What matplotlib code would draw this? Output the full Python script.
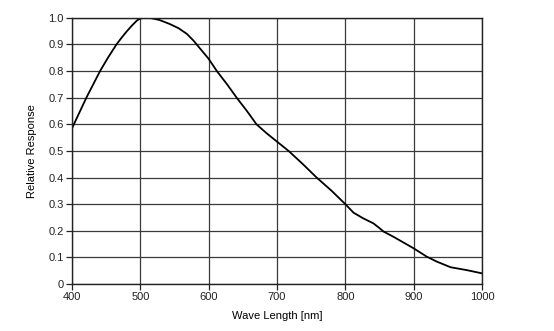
import matplotlib.pyplot as plt

plt.rcParams['font.family'] = ['Liberation Sans', 'DejaVu Sans']

# data
wavelength = [400, 410, 421, 431, 441, 453, 465, 473, 480, 488, 495, 500, 507,
              514, 528, 543, 556, 568, 578, 587, 600, 612, 627, 641, 656, 670,
              685, 700, 717, 738, 758, 780, 800, 812, 826, 841, 849, 856, 870,
              883, 900, 919, 934, 954, 978, 1000]
response = [0.585, 0.64, 0.70, 0.75, 0.80, 0.852, 0.90, 0.927, 0.949, 0.972,
            0.990, 0.998, 1.0, 1.0, 0.992, 0.977, 0.961, 0.94, 0.914, 0.886,
            0.846, 0.80, 0.75, 0.70, 0.65, 0.60, 0.566, 0.535, 0.50, 0.45,
            0.40, 0.35, 0.30, 0.268, 0.247, 0.228, 0.212, 0.197, 0.178, 0.159,
            0.134, 0.103, 0.084, 0.063, 0.052, 0.040]

x_ticks = [400, 500, 600, 700, 800, 900, 1000]
y_ticks = [0, 0.1, 0.2, 0.3, 0.4, 0.5, 0.6, 0.7, 0.8, 0.9, 1.0]
y_labels = ['0', '0.1', '0.2', '0.3', '0.4', '0.5', '0.6', '0.7', '0.8', '0.9', '1.0']

fig = plt.figure(figsize=(5.54, 3.31), dpi=100)
ax = fig.add_axes([0.130, 0.142, 0.740, 0.804])

ax.plot(wavelength, response, color='black', linewidth=1.3)

ax.set_xlim(400, 1000)
ax.set_ylim(0, 1.0)
ax.set_xticks(x_ticks)
ax.set_yticks(y_ticks)
ax.set_yticklabels(y_labels)
ax.grid(True, color='#3a3a3a', linewidth=0.9)
ax.set_axisbelow(True)
for s in ax.spines.values():
    s.set_color('#222222')
    s.set_linewidth(1.0)
ax.tick_params(direction='out', length=4, width=0.9, labelsize=8, pad=2, colors='#222222')

ax.set_xlabel('Wave Length [nm]', fontsize=8, labelpad=6)
ax.set_ylabel('Relative Response', fontsize=8, labelpad=8)

plt.savefig('out.png', dpi=100)
